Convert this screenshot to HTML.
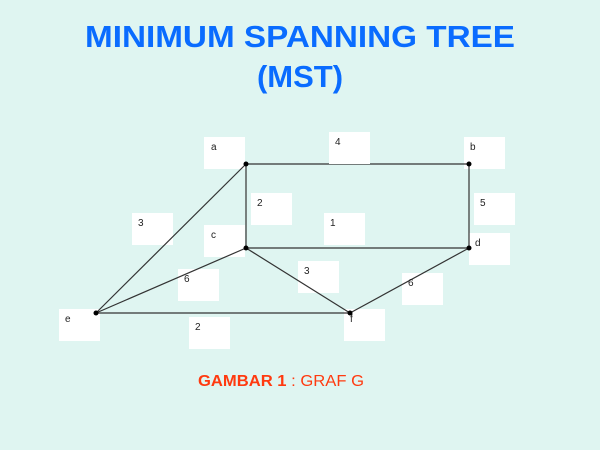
<!DOCTYPE html>
<html><head><style>
html,body{margin:0;padding:0;}
body{width:600px;height:450px;background:#dff5f1;overflow:hidden;}
</style></head><body>
<svg width="600" height="450" xmlns="http://www.w3.org/2000/svg" style="position:absolute;left:0;top:0">
<rect width="600" height="450" fill="#dff5f1"/>
<g font-family="Liberation Sans, sans-serif" font-weight="bold" fill="#0a6cff" font-size="31" text-anchor="middle">
<text x="300" y="47" textLength="430" lengthAdjust="spacingAndGlyphs">MINIMUM SPANNING TREE</text>
<text x="300" y="87">(MST)</text>
</g>
<g fill="#fff">
<rect x="204" y="137" width="41" height="32"/>
<rect x="464" y="137" width="41" height="32"/>
<rect x="251" y="193" width="41" height="32"/>
<rect x="474" y="193" width="41" height="32"/>
<rect x="132" y="213" width="41" height="32"/>
<rect x="324" y="213" width="41" height="32"/>
<rect x="204" y="225" width="41" height="32"/>
<rect x="469" y="233" width="41" height="32"/>
<rect x="298" y="261" width="41" height="32"/>
<rect x="178" y="269" width="41" height="32"/>
<rect x="402" y="273" width="41" height="32"/>
<rect x="59" y="309" width="41" height="32"/>
<rect x="344" y="309" width="41" height="32"/>
<rect x="189" y="317" width="41" height="32"/>
</g>
<g stroke="#333" stroke-width="1.2" fill="none">
<line x1="246" y1="164" x2="469" y2="164"/>
<line x1="246" y1="164" x2="246" y2="248"/>
<line x1="469" y1="164" x2="469" y2="248"/>
<line x1="246" y1="248" x2="469" y2="248"/>
<line x1="246" y1="164" x2="96" y2="313"/>
<line x1="246" y1="248" x2="96" y2="313"/>
<line x1="96" y1="313" x2="350" y2="313"/>
<line x1="246" y1="248" x2="350" y2="313"/>
<line x1="350" y1="313" x2="469" y2="248"/>
</g>
<rect x="329" y="132" width="41" height="32" fill="#fff"/>
<g font-family="Liberation Sans, sans-serif" font-size="10" fill="#222">
<text x="211" y="150">a</text>
<text x="335" y="145">4</text>
<text x="470" y="150">b</text>
<text x="257" y="206">2</text>
<text x="480" y="206">5</text>
<text x="138" y="226">3</text>
<text x="330" y="226">1</text>
<text x="211" y="238">c</text>
<text x="475" y="246">d</text>
<text x="304" y="274">3</text>
<text x="184" y="282">6</text>
<text x="408" y="286">6</text>
<text x="65" y="322">e</text>
<text x="350" y="322">f</text>
<text x="195" y="330">2</text>
</g>
<g fill="#000">
<circle cx="246" cy="164" r="2.5"/>
<circle cx="469" cy="164" r="2.5"/>
<circle cx="246" cy="248" r="2.5"/>
<circle cx="469" cy="248" r="2.5"/>
<circle cx="96" cy="313" r="2.5"/>
<circle cx="350" cy="313" r="2.5"/>
</g>
<text x="198" y="386" font-family="Liberation Sans, sans-serif" font-size="16" fill="#ff3a10" textLength="166" lengthAdjust="spacingAndGlyphs"><tspan font-weight="bold">GAMBAR 1</tspan> : GRAF G</text>
</svg>
</body></html>
